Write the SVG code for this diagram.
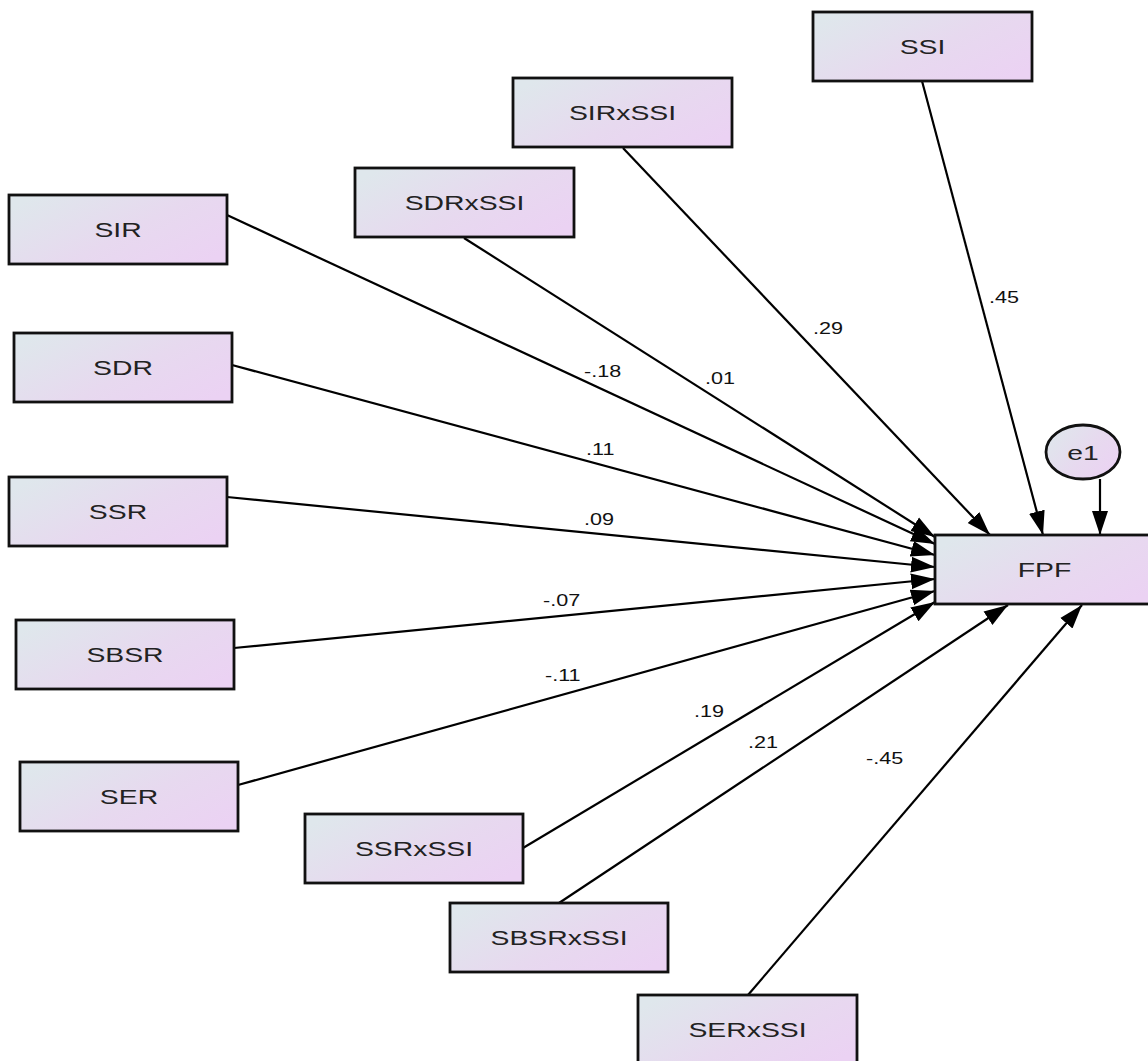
<svg xmlns="http://www.w3.org/2000/svg" width="1148" height="1061" viewBox="0 0 1148 1061">
<defs>
<linearGradient id="g" x1="0" y1="0.2" x2="1" y2="0.8">
<stop offset="0" stop-color="#dfe7ec"/>
<stop offset="0.55" stop-color="#e7d9ef"/>
<stop offset="1" stop-color="#ebd2f3"/>
</linearGradient>
<marker id="ah" markerUnits="userSpaceOnUse" markerWidth="26" markerHeight="20" viewBox="0 0 26 20" refX="24" refY="10" orient="auto">
<path d="M0,2 L24,10 L0,18 Z" fill="#000"/>
</marker>
<style>
.box{fill:url(#g);stroke:#111;stroke-width:2.8}
.t{font-family:"Liberation Sans",Arial,sans-serif;font-size:21px;fill:#222;text-anchor:middle;dominant-baseline:central}
.l{font-family:"Liberation Sans",Arial,sans-serif;font-size:16px;fill:#111}
.c{stroke:#000;stroke-width:2.2;fill:none;marker-end:url(#ah)}
</style>
</defs>
<rect width="1148" height="1061" fill="#fff"/>
<g id="connectors">
<line class="c" x1="227" y1="215" x2="935" y2="544"/>
<line class="c" x1="232" y1="365" x2="935" y2="555"/>
<line class="c" x1="227" y1="497" x2="935" y2="567"/>
<line class="c" x1="234" y1="648" x2="935" y2="579"/>
<line class="c" x1="238" y1="785" x2="935" y2="591"/>
<line class="c" x1="523" y1="848" x2="935" y2="602"/>
<line class="c" x1="559" y1="903" x2="1008" y2="605"/>
<line class="c" x1="748" y1="995" x2="1082" y2="605"/>
<line class="c" x1="464" y1="238" x2="935" y2="537"/>
<line class="c" x1="623" y1="148" x2="990" y2="535"/>
<line class="c" x1="922" y1="81" x2="1043" y2="535"/>
<line class="c" x1="1100" y1="479" x2="1100" y2="535"/>
<text class="l" transform="translate(584 377) scale(1.35 1)">-.18</text>
<text class="l" transform="translate(705 384) scale(1.35 1)">.01</text>
<text class="l" transform="translate(813 334) scale(1.35 1)">.29</text>
<text class="l" transform="translate(989 303) scale(1.35 1)">.45</text>
<text class="l" transform="translate(586 455) scale(1.35 1)">.11</text>
<text class="l" transform="translate(584 525) scale(1.35 1)">.09</text>
<text class="l" transform="translate(543 606) scale(1.35 1)">-.07</text>
<text class="l" transform="translate(545 681) scale(1.35 1)">-.11</text>
<text class="l" transform="translate(694 717) scale(1.35 1)">.19</text>
<text class="l" transform="translate(748 748) scale(1.35 1)">.21</text>
<text class="l" transform="translate(866 764) scale(1.35 1)">-.45</text>
</g>
<g id="SSI"><rect class="box" x="813" y="12" width="219" height="69"/><text class="t" transform="translate(922.5 46.5) scale(1.35 1)">SSI</text></g>
<g id="SIRxSSI"><rect class="box" x="513" y="78" width="219" height="69"/><text class="t" transform="translate(622.5 112.5) scale(1.35 1)">SIRxSSI</text></g>
<g id="SDRxSSI"><rect class="box" x="355" y="168" width="219" height="69"/><text class="t" transform="translate(464.5 202.5) scale(1.35 1)">SDRxSSI</text></g>
<g id="SIR"><rect class="box" x="9" y="195" width="218" height="69"/><text class="t" transform="translate(118 229.5) scale(1.35 1)">SIR</text></g>
<g id="SDR"><rect class="box" x="14" y="333" width="218" height="69"/><text class="t" transform="translate(123 367.5) scale(1.35 1)">SDR</text></g>
<g id="SSR"><rect class="box" x="9" y="477" width="218" height="69"/><text class="t" transform="translate(118 511.5) scale(1.35 1)">SSR</text></g>
<g id="SBSR"><rect class="box" x="16" y="620" width="218" height="69"/><text class="t" transform="translate(125 654.5) scale(1.35 1)">SBSR</text></g>
<g id="SER"><rect class="box" x="20" y="762" width="218" height="69"/><text class="t" transform="translate(129 796.5) scale(1.35 1)">SER</text></g>
<g id="SSRxSSI"><rect class="box" x="305" y="814" width="218" height="69"/><text class="t" transform="translate(414 848.5) scale(1.35 1)">SSRxSSI</text></g>
<g id="SBSRxSSI"><rect class="box" x="450" y="903" width="218" height="69"/><text class="t" transform="translate(559 937.5) scale(1.35 1)">SBSRxSSI</text></g>
<g id="SERxSSI"><rect class="box" x="638" y="995" width="219" height="69"/><text class="t" transform="translate(747.5 1029.5) scale(1.35 1)">SERxSSI</text></g>
<g id="FPF"><rect class="box" x="935" y="535" width="219" height="69"/><text class="t" transform="translate(1044.5 569.5) scale(1.35 1)">FPF</text></g>
<g id="e1"><ellipse class="box" cx="1083" cy="452" rx="37" ry="27"/><text class="t" transform="translate(1083 452) scale(1.35 1)">e1</text></g>
</svg>
